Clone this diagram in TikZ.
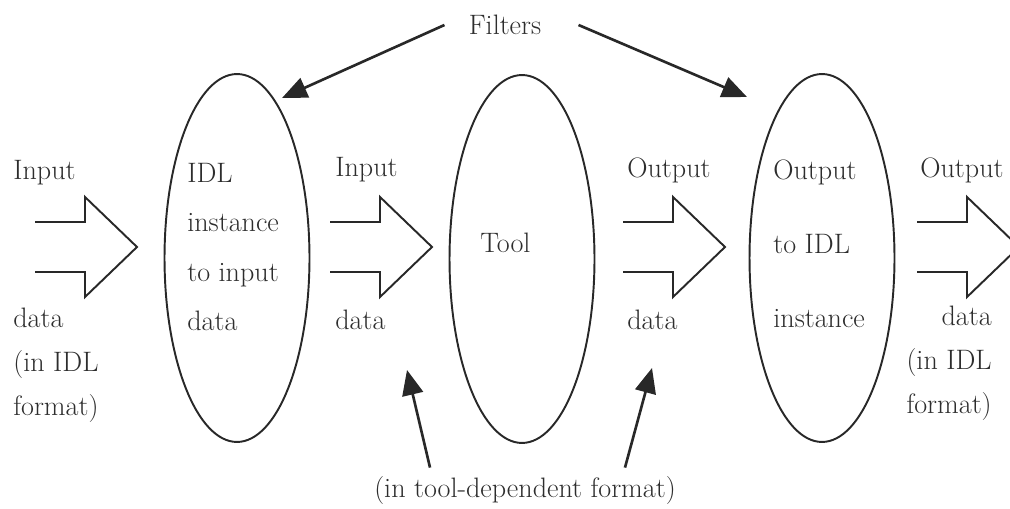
\documentclass[tikz,border=0pt]{standalone}
\usepackage{fontspec}
\usepackage{tikz}
\usetikzlibrary{arrows.meta, shapes.geometric}
\definecolor{ink}{RGB}{40, 40, 40}
\definecolor{inktext}{RGB}{45, 45, 45}

\begin{document}
\begin{tikzpicture}[x=0.02cm, y=-0.02cm,
    lbl/.style={font=\fontsize{16}{25}\selectfont, text=inktext, align=left, inner sep=0pt},
    filterbox/.style={draw=ink, line width=1.1pt, ellipse, minimum width=2.9cm,
                      minimum height=7.36cm, inner sep=0pt},
    hollow/.style={draw=ink, line width=1.1pt, line join=miter},
    pointer/.style={draw=ink, line width=1.5pt, -{Triangle[length=0.5cm, width=0.42cm]}}]
  \useasboundingbox (0,0) rectangle (1010,509);
  \clip (0,0) rectangle (1010,509);

  % the three ellipses
  \node[filterbox] (idlin)  at (237,258) {};
  \node[filterbox] (tool)   at (522,259) {};
  \node[filterbox] (idlout) at (822,258) {};

  % texts
  \node[lbl, anchor=west] (inlbl)    at (13,173)  {Input};
  \node[lbl, anchor=west] (indata)   at (13,365)  {data\\(in IDL\\format)};
  \node[lbl, anchor=west] (idlintxt) at (187,247) {IDL\\[3pt]instance\\[3pt]to input\\[3pt]data};
  \node[lbl, anchor=west] (toolin)   at (335,170) {Input};
  \node[lbl, anchor=west] (toolindt) at (335,320) {data};
  \node[lbl, anchor=west] (tooltxt)  at (480,243) {Tool};
  \node[lbl, anchor=west] (toolout)  at (627,170) {Output};
  \node[lbl, anchor=west] (tooloutd) at (627,320) {data};
  \node[lbl, anchor=west] (idlouttx) at (773,244) {Output\\[17pt]to IDL\\[17pt]instance};
  \node[lbl, anchor=west] (outlbl)   at (920,170) {Output};
  \node[lbl, anchor=east, align=right] (outdata) at (992,363) {data\\(in IDL\\format)};
  \node[lbl] (filters) at (505,25)  {Filters};
  \node[lbl] (fmt)     at (525,490) {(in tool-dependent format)};

  % hollow data arrows
  \foreach \x in {35,330,623,917}
    \draw[hollow] (\x,222) -- ++(50,0) -- ++(0,-25) -- ++(52,50) -- ++(-52,50)
                  -- ++(0,-25) -- ++(-50,0);

  % pointers
  \coordinate (tipL) at (282,98);
  \coordinate (tipR) at (747,97);
  \coordinate (tipA) at (407,370);
  \coordinate (tipB) at (652,368);
  \draw[pointer] ([xshift=-0.48cm]filters.west) -- (tipL);
  \draw[pointer] ([xshift=0.74cm]filters.east) -- (tipR);
  \draw[pointer] ([xshift=-1.9cm, yshift=0.16cm]fmt.north) -- (tipA);
  \draw[pointer] ([xshift=2cm, yshift=0.16cm]fmt.north) -- (tipB);
\end{tikzpicture}
\end{document}
